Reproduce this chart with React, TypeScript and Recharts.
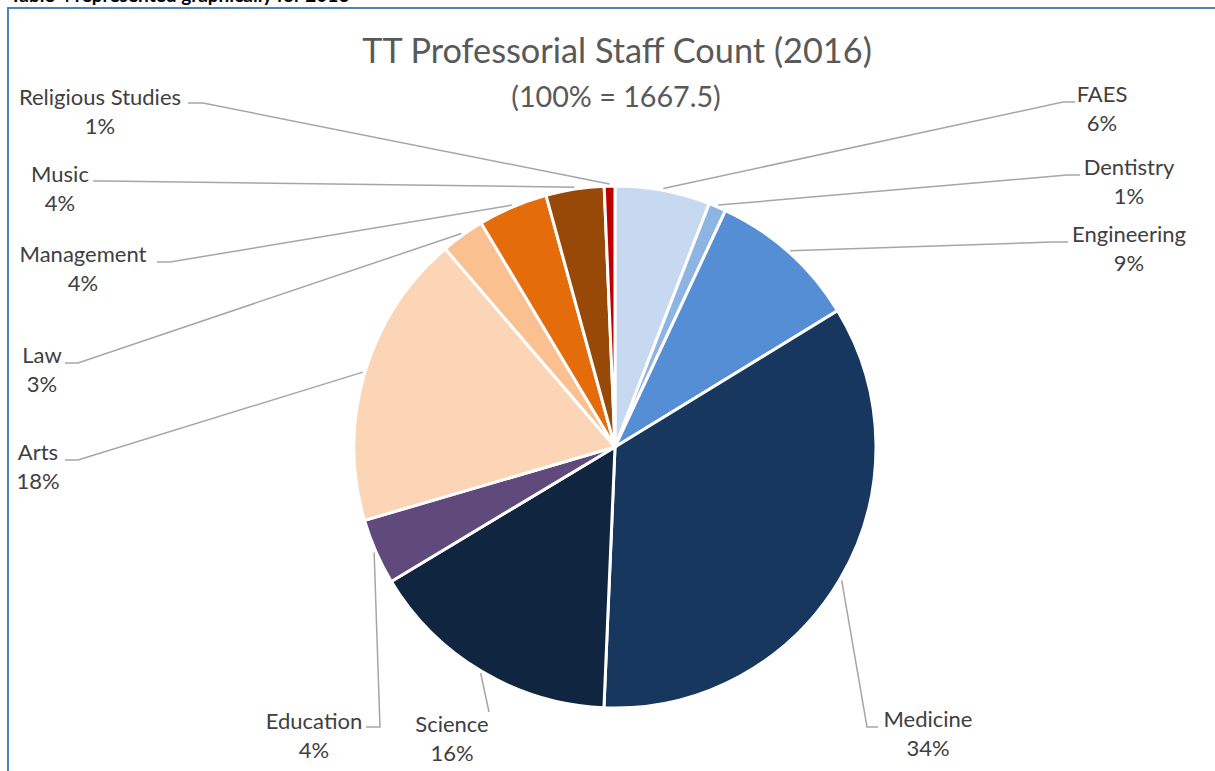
import React from 'react';
import { PieChart, Pie, Cell } from 'recharts';

const NAMES = ['FAES', 'Dentistry', 'Engineering', 'Medicine', 'Science', 'Education', 'Arts', 'Law', 'Management', 'Music', 'Religious Studies'];
const VALUES = [98, 18, 155, 574, 262, 68, 304.5, 45, 72, 60, 11];
const COLORS = ['#C6D9F1', '#8EB4E3', '#558ED5', '#17375E', '#10253F', '#604A7B', '#FBD5B5', '#FAC090', '#E46C0A', '#984807', '#C00000'];

const TITLE = 'TT Professorial Staff Count (2016)';
const SUBTITLE = '(100% = 1667.5)';
const CAPTION = 'Table 4 represented graphically for 2016';

const data = NAMES.map((name, i) => ({ name, value: VALUES[i] }));

// label layout: text centre x, name baseline y, leader elbow and end points
const LABEL_LAYOUT: Record<string, { tx: number; ty: number; elbow: [number, number]; end: [number, number] }> = {
  FAES: { tx: 1102, ty: 102, elbow: [1063, 102], end: [1075, 102] },
  Dentistry: { tx: 1129, ty: 175, elbow: [1067, 175], end: [1080, 175] },
  Engineering: { tx: 1129, ty: 242, elbow: [1053, 242], end: [1068, 242] },
  Medicine: { tx: 928, ty: 727, elbow: [867, 727], end: [878, 727] },
  Science: { tx: 452, ty: 732, elbow: [489, 712], end: [489, 712] },
  Education: { tx: 314, ty: 729, elbow: [380, 727], end: [366, 727] },
  Arts: { tx: 38, ty: 460, elbow: [78, 460], end: [65, 460] },
  Law: { tx: 42, ty: 363, elbow: [78, 363], end: [65, 363] },
  Management: { tx: 83, ty: 262, elbow: [170, 262], end: [157, 262] },
  Music: { tx: 60, ty: 182, elbow: [105, 181], end: [93, 181] },
  'Religious Studies': { tx: 100, ty: 105, elbow: [203, 103], end: [188, 103] },
};

const FONT = 'Lato, "Open Sans", sans-serif';
const RAD = Math.PI / 180;

const renderLabel = (props: any) => {
  const { cx, cy, midAngle, outerRadius, name, percent } = props;
  const lay = LABEL_LAYOUT[name];
  if (!lay) return null;
  const r = outerRadius + 2;
  const sx = cx + r * Math.cos(-midAngle * RAD);
  const sy = cy + r * Math.sin(-midAngle * RAD);
  const pts = `${sx},${sy} ${lay.elbow[0]},${lay.elbow[1]} ${lay.end[0]},${lay.end[1]}`;
  return (
    <g>
      <polyline points={pts} fill="none" stroke="#A6A6A6" strokeWidth={1.5} />
      <text x={lay.tx} y={lay.ty} textAnchor="middle" fill="#404040" fontSize={22} fontFamily={FONT}>
        {name}
      </text>
      <text x={lay.tx} y={lay.ty + 29} textAnchor="middle" fill="#404040" fontSize={22} fontFamily={FONT}>
        {`${Math.round(percent * 100)}%`}
      </text>
    </g>
  );
};

export default function App() {
  return (
    <div style={{ position: 'absolute', left: 0, top: 0, width: 1215, height: 771, overflow: 'hidden', background: '#fff' }}>
      <div
        style={{
          position: 'absolute',
          left: 7,
          top: 7,
          width: 1400,
          height: 1000,
          borderLeft: '2px solid #4F81BD',
          borderTop: '2px solid #4F81BD',
          boxSizing: 'border-box',
        }}
      />
      <svg width={1215} height={120} style={{ position: 'absolute', left: 0, top: 0 }}>
        <text x={10} y={2} fontFamily={FONT} fontWeight="bold" fontSize={19} fill="#000">
          {CAPTION}
        </text>
        <text x={617} y={63} textAnchor="middle" fontFamily={FONT} fontSize={34.3} fill="#595959">
          {TITLE}
        </text>
        <text x={616} y={107} textAnchor="middle" fontFamily={FONT} fontSize={28.7} fill="#595959">
          {SUBTITLE}
        </text>
      </svg>
      <div style={{ position: 'absolute', left: 0, top: 0 }}>
        <PieChart width={1215} height={771} margin={{ top: 0, right: 0, bottom: 0, left: 0 }}>
          <Pie
            data={data}
            dataKey="value"
            nameKey="name"
            cx={615}
            cy={447}
            outerRadius={261}
            startAngle={90}
            endAngle={-270}
            stroke="#FFFFFF"
            strokeWidth={3}
            label={renderLabel}
            labelLine={false}
            isAnimationActive={false}
          >
            {data.map((d, i) => (
              <Cell key={d.name} fill={COLORS[i]} />
            ))}
          </Pie>
        </PieChart>
      </div>
    </div>
  );
}
